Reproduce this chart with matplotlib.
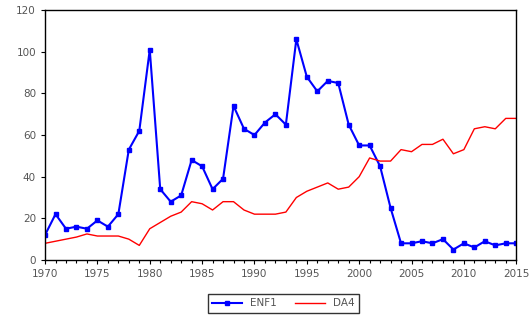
import numpy as np
import matplotlib.pyplot as plt
from matplotlib.ticker import MultipleLocator

years = list(range(1970, 2016))
enf1 = [12, 22, 15, 16, 15, 19, 16, 22, 53, 62,
        101, 34, 28, 31, 48, 45, 34, 39, 74, 63,
        60, 66, 70, 65, 106, 88, 81, 86, 85, 65,
        55, 55, 45, 25, 8, 8, 9, 8, 10, 5,
        8, 6, 9, 7, 8, 8]
da4 = [8, 9, 10, 11, 12.5, 11.5, 11.5, 11.5, 10, 7,
       15, 18, 21, 23, 28, 27, 24, 28, 28, 24,
       22, 22, 22, 23, 30, 33, 35, 37, 34, 35,
       40, 49, 47.5, 47.5, 53, 52, 55.5, 55.5, 58, 51,
       53, 63, 64, 63, 68, 68]

fig = plt.figure(figsize=(5.30, 3.27), dpi=100)
ax = fig.add_axes([0.085, 0.205, 0.889, 0.764])

ax.plot(years, enf1, color='#0000ff', lw=1.5, marker='s', ms=2.8, label='ENF1')
ax.plot(years, da4, color='#ff0000', lw=1.0, label='DA4')

ax.set_xlim(1970, 2015)
ax.set_ylim(0, 120)
ax.xaxis.set_major_locator(MultipleLocator(5))
ax.xaxis.set_minor_locator(MultipleLocator(1))
ax.yaxis.set_major_locator(MultipleLocator(20))
ax.tick_params(axis='both', which='both', direction='out', labelsize=7.5,
               labelcolor='#555555', length=3, width=0.8)
ax.tick_params(axis='x', which='minor', length=2)
for s in ax.spines.values():
    s.set_linewidth(1.0)

leg = fig.legend(loc='center', bbox_to_anchor=(0.535, 0.072), ncol=2,
                 fontsize=7.5, frameon=True, fancybox=False, edgecolor='black',
                 handlelength=2.8, columnspacing=1.8, borderpad=0.4)
leg.get_frame().set_linewidth(1.0)
for t in leg.get_texts():
    t.set_color('#555555')

fig.savefig('out.png', dpi=100)
